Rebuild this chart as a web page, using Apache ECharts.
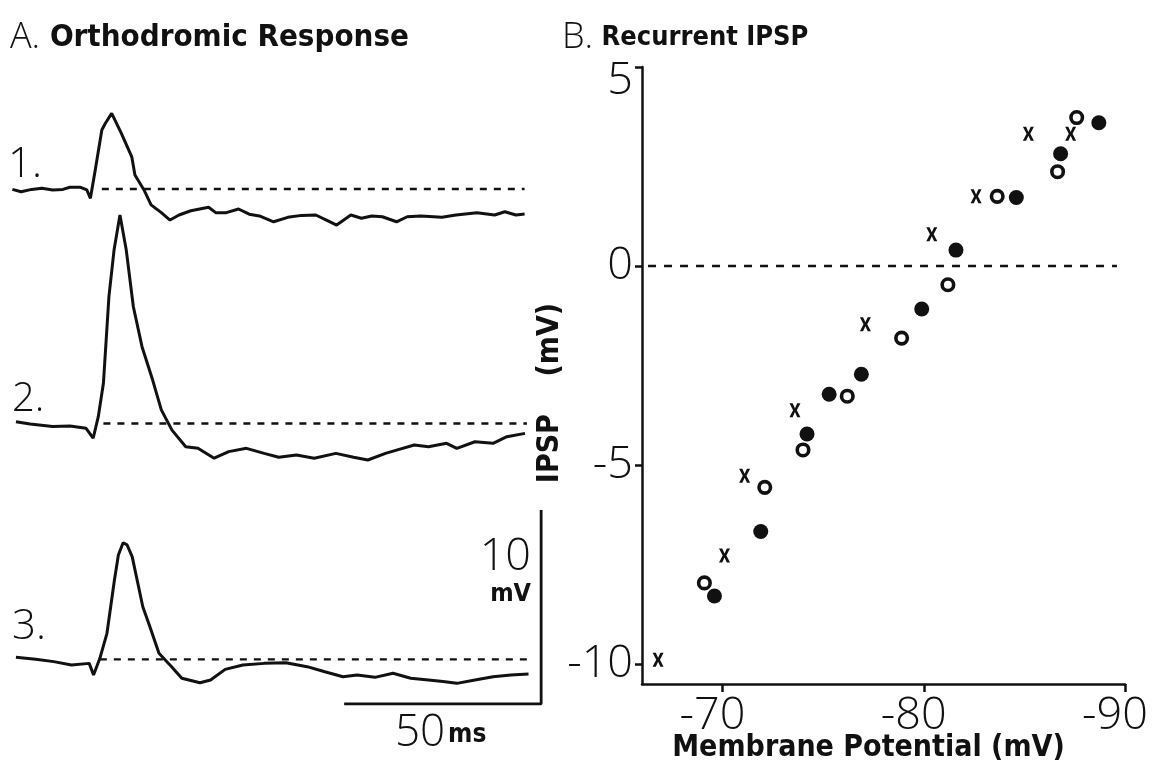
<!DOCTYPE html>
<html><head><meta charset="utf-8">
<script src="https://cdn.jsdelivr.net/npm/echarts@6/dist/echarts.min.js"></script>
<style>html,body{margin:0;padding:0;background:#fff;}#c{width:1156px;height:773px;}</style>
</head><body><div id="c"></div>
<script>
// ---------- Panel A: orthodromic response traces (time in ms, potential in mV relative to resting level) ----------
const trace1Time = [0.1,2.3,5.0,7.6,10.3,12.9,14.7,17.4,19.0,19.9,21.0,22.8,23.7,25.3,27.7,30.4,31.2,33.5,35.3,37.9,40.1,42.4,45.4,49.9,51.7,54.4,57.5,60.2,62.8,66.4,70.0,73.5,77.1,79.8,82.4,86.0,88.7,91.3,94.0,97.6,100.3,103.8,109.1,112.7,118.0,122.5,125.1,127.9,130.1];
const trace1Mv   = [-0.02,-0.14,-0.02,0.04,-0.05,-0.02,0.09,0.09,-0.05,-0.48,0.82,3.04,3.39,3.9,2.89,1.66,0.72,-0.05,-0.82,-1.22,-1.6,-1.34,-1.12,-0.94,-1.22,-1.22,-1.03,-1.3,-1.39,-1.69,-1.46,-1.36,-1.34,-1.6,-1.86,-1.34,-1.51,-1.39,-1.43,-1.69,-1.43,-1.39,-1.46,-1.34,-1.22,-1.34,-1.17,-1.34,-1.29];
const trace2Time = [1.0,4.6,10.3,14.7,18.8,20.6,21.9,23.2,24.6,25.9,27.4,29.0,30.8,33.0,35.7,37.9,40.6,44.1,47.2,51.3,55.0,59.5,64.0,67.7,72.2,76.7,82.2,86.7,90.3,94.8,97.6,102.1,105.7,110.3,112.9,117.5,122.1,125.6,130.2];
const trace2Mv   = [0.09,-0.03,-0.16,-0.13,-0.25,-0.76,0.35,2.07,6.54,8.94,10.75,8.94,6.02,3.96,2.24,0.7,-0.34,-1.2,-1.28,-1.79,-1.45,-1.28,-1.54,-1.74,-1.62,-1.79,-1.54,-1.74,-1.88,-1.54,-1.37,-1.11,-1.2,-1.02,-1.28,-0.94,-1.02,-0.68,-0.51];
const trace3Time = [1.0,6.0,10.6,15.1,19.6,20.7,22.3,24.1,26.0,27.0,28.2,29.2,30.5,33.2,35.0,37.3,40.5,43.1,47.7,50.4,54.1,58.6,64.0,69.5,74.9,79.4,84.0,87.6,92.1,96.7,101.2,105.7,109.4,112.9,117.5,122.1,126.6,131.1];
const trace3Mv   = [0.1,0,-0.12,-0.29,-0.21,-0.81,0.05,1.34,4.09,5.38,6.01,5.9,5.29,2.71,1.68,0.31,-0.38,-0.98,-1.21,-1.07,-0.52,-0.29,-0.21,-0.18,-0.38,-0.64,-0.9,-0.81,-0.93,-0.72,-0.98,-1.07,-1.15,-1.24,-1.07,-0.9,-0.81,-0.76];
const traceLabels = ['1.', '2.', '3.'];
const baselineStart = [22.8, 23.2, 22.3];
const baselineEnd   = [130.1, 130.7, 131.1];
// scale bar: 50 ms horizontal, 10 mV vertical
const scaleBarTime = [84.3, 134.3, 134.3];
const scaleBarMv   = [-2.3, -2.3, 7.7];

// ---------- Panel B: recurrent IPSP vs membrane potential ----------
const filledX = [-69.6,-71.9,-74.2,-75.3,-76.9,-79.9,-81.6,-84.6,-86.8,-88.7];
const filledY = [-8.29,-6.67,-4.22,-3.22,-2.72,-1.08,0.4,1.72,2.82,3.6];
const openX   = [-69.1,-72.1,-74.0,-76.2,-78.9,-81.2,-83.65,-86.65,-87.6];
const openY   = [-7.96,-5.56,-4.62,-3.27,-1.81,-0.47,1.75,2.37,3.73];
const crossX  = [-66.8,-70.1,-71.1,-73.6,-77.1,-80.4,-82.6,-85.2,-87.3];
const crossY  = [-9.89,-7.27,-5.27,-3.62,-1.46,0.8,1.75,3.32,3.32];
const xTicks = [-90, -80, -70];
const yTicks = [-10, -5, 0, 5];
const zeroLineX = [-66.3, -89.6];

const INK = '#111';
const thinFont = "'Open Sans', 'Liberation Sans', sans-serif";
const boldFont = "'DejaVu Sans Condensed', 'Liberation Sans Narrow', 'DejaVu Sans', sans-serif";
const zip = (a, b) => a.map((v, i) => [v, b[i]]);

const pxPerMs = 3.94, pxPerMv = 19.4;
const traceGrids = [
  { base: 189,   yMin: -3, yMax: 6 },
  { base: 423.5, yMin: -3, yMax: 12 },
  { base: 659.3, yMin: -3, yMax: 8 }
];
const xMaxA = 135;

const grids = traceGrids.map(g => ({
  left: 12, top: g.base - g.yMax * pxPerMv, width: xMaxA * pxPerMs,
  height: (g.yMax - g.yMin) * pxPerMv, containLabel: false, outerBoundsMode: 'none'
}));
grids.push({ left: 642, top: 67, width: 483, height: 617, containLabel: false, outerBoundsMode: 'none' });

const xAxes = traceGrids.map((g, i) => ({ gridIndex: i, type: 'value', min: 0, max: xMaxA, show: false }));
const yAxes = traceGrids.map((g, i) => ({ gridIndex: i, type: 'value', min: g.yMin, max: g.yMax, show: false }));

const tickLabelStyle = { fontSize: 45, color: INK, fontFamily: thinFont, fontWeight: 300 };

xAxes.push({
  gridIndex: 3, type: 'value', min: -90, max: -66, inverse: true,
  axisLine: { show: true, onZero: false, lineStyle: { color: INK, width: 2.5 } },
  axisTick: { show: true, length: 8, customValues: xTicks, lineStyle: { color: INK, width: 2.5 } },
  axisLabel: Object.assign({ customValues: xTicks, margin: 10, padding: [0, 20, 0, 0] }, tickLabelStyle),
  splitLine: { show: false },
  name: 'Membrane Potential (mV)', nameLocation: 'middle', nameGap: 49, nameMoveOverlap: false,
  nameTextStyle: { fontSize: 30, fontWeight: 'bold', color: INK, fontFamily: boldFont, padding: [0, 30, 0, 0] }
});
yAxes.push({
  gridIndex: 3, type: 'value', min: -10.5, max: 5,
  axisLine: { show: true, onZero: false, lineStyle: { color: INK, width: 2.5 } },
  axisTick: { show: true, length: 7, customValues: yTicks, lineStyle: { color: INK, width: 2.5 } },
  axisLabel: Object.assign({
    customValues: yTicks, margin: 9,
    formatter: v => (v === 5 ? '{t|5}' : String(v)),
    rich: { t: Object.assign({ padding: [28, 0, 0, 0] }, tickLabelStyle) }
  }, tickLabelStyle),
  splitLine: { show: false },
  name: 'IPSP    (mV)', nameLocation: 'middle', nameGap: 77, nameRotate: 90, nameMoveOverlap: false,
  nameTextStyle: { fontSize: 30, fontWeight: 'bold', color: INK, fontFamily: boldFont, padding: [0, 35, 0, 0] }
});

const series = [];
const traces = [zip(trace1Time, trace1Mv), zip(trace2Time, trace2Mv), zip(trace3Time, trace3Mv)];
traces.forEach((d, i) => {
  series.push({ type: 'line', xAxisIndex: i, yAxisIndex: i, data: d, symbol: 'none', silent: true,
    lineStyle: { color: INK, width: 3 } });
  series.push({ type: 'line', xAxisIndex: i, yAxisIndex: i, data: [[baselineStart[i], 0], [baselineEnd[i], 0]],
    symbol: 'none', silent: true, lineStyle: { color: INK, width: 2.3, type: [7, 7] } });
});
series.push({ type: 'line', xAxisIndex: 2, yAxisIndex: 2, data: zip(scaleBarTime, scaleBarMv), symbol: 'none',
  silent: true, lineStyle: { color: INK, width: 2.8 } });

series.push({ type: 'line', xAxisIndex: 3, yAxisIndex: 3, data: zeroLineX.map(x => [x, 0]), symbol: 'none',
  silent: true, lineStyle: { color: INK, width: 2.4, type: [8, 8] } });
series.push({ type: 'scatter', xAxisIndex: 3, yAxisIndex: 3, data: zip(filledX, filledY), symbol: 'circle',
  symbolSize: 15, itemStyle: { color: INK, opacity: 1 } });
series.push({ type: 'scatter', xAxisIndex: 3, yAxisIndex: 3, data: zip(openX, openY), symbol: 'circle',
  symbolSize: 11.5, itemStyle: { color: '#fff', borderColor: INK, borderWidth: 3.6, opacity: 1 } });
series.push({ type: 'scatter', xAxisIndex: 3, yAxisIndex: 3, data: zip(crossX, crossY),
  symbol: 'path://M0,0 L2.9,0 L5,4.3 L7.1,0 L10,0 L6.7,6 L10,12 L7.1,12 L5,7.7 L2.9,12 L0,12 L3.3,6 Z',
  symbolSize: [11, 14], itemStyle: { color: INK, opacity: 1 } });

const graphic = [
  { type: 'text', x: 10, y: 38, style: { text: '{a|A.}{b| Orthodromic Response}', verticalAlign: 'middle',
      rich: { a: { fontSize: 36, fontFamily: thinFont, fontWeight: 300, fill: INK },
              b: { fontSize: 31, fontFamily: boldFont, fontWeight: 'bold', fill: INK } } } },
  { type: 'text', x: 562, y: 38, style: { text: '{a|B.}{b| Recurrent IPSP}', verticalAlign: 'middle',
      rich: { a: { fontSize: 36, fontFamily: thinFont, fontWeight: 300, fill: INK },
              b: { fontSize: 27, fontFamily: boldFont, fontWeight: 'bold', fill: INK } } } },
  { type: 'text', x: 8, y: 165, style: { text: traceLabels[0], fontSize: 42, fontFamily: thinFont, fontWeight: 300, fill: INK, verticalAlign: 'middle' } },
  { type: 'text', x: 12, y: 400, style: { text: traceLabels[1], fontSize: 40, fontFamily: thinFont, fontWeight: 300, fill: INK, verticalAlign: 'middle' } },
  { type: 'text', x: 12, y: 627, style: { text: traceLabels[2], fontSize: 42, fontFamily: thinFont, fontWeight: 300, fill: INK, verticalAlign: 'middle' } },
  { type: 'text', x: 531, y: 557, style: { text: '10', fontSize: 45, fontFamily: thinFont, fontWeight: 300, fill: INK, align: 'right', verticalAlign: 'middle' } },
  { type: 'text', x: 531, y: 594, style: { text: 'mV', fontSize: 25, fontFamily: boldFont, fontWeight: 'bold', fill: INK, align: 'right', verticalAlign: 'middle' } },
  { type: 'text', x: 395, y: 733, style: { text: '50', fontSize: 44, fontFamily: thinFont, fontWeight: 300, fill: INK, verticalAlign: 'middle' } },
  { type: 'text', x: 448, y: 748, style: { text: 'ms', fontSize: 26, fontFamily: boldFont, fontWeight: 'bold', fill: INK, verticalAlign: 'bottom' } }
];

const chart = echarts.init(document.getElementById('c'), null, { renderer: 'canvas' });
chart.setOption({
  backgroundColor: '#fff',
  animation: false,
  grid: grids,
  xAxis: xAxes,
  yAxis: yAxes,
  series: series,
  graphic: graphic
});
</script>
</body></html>
